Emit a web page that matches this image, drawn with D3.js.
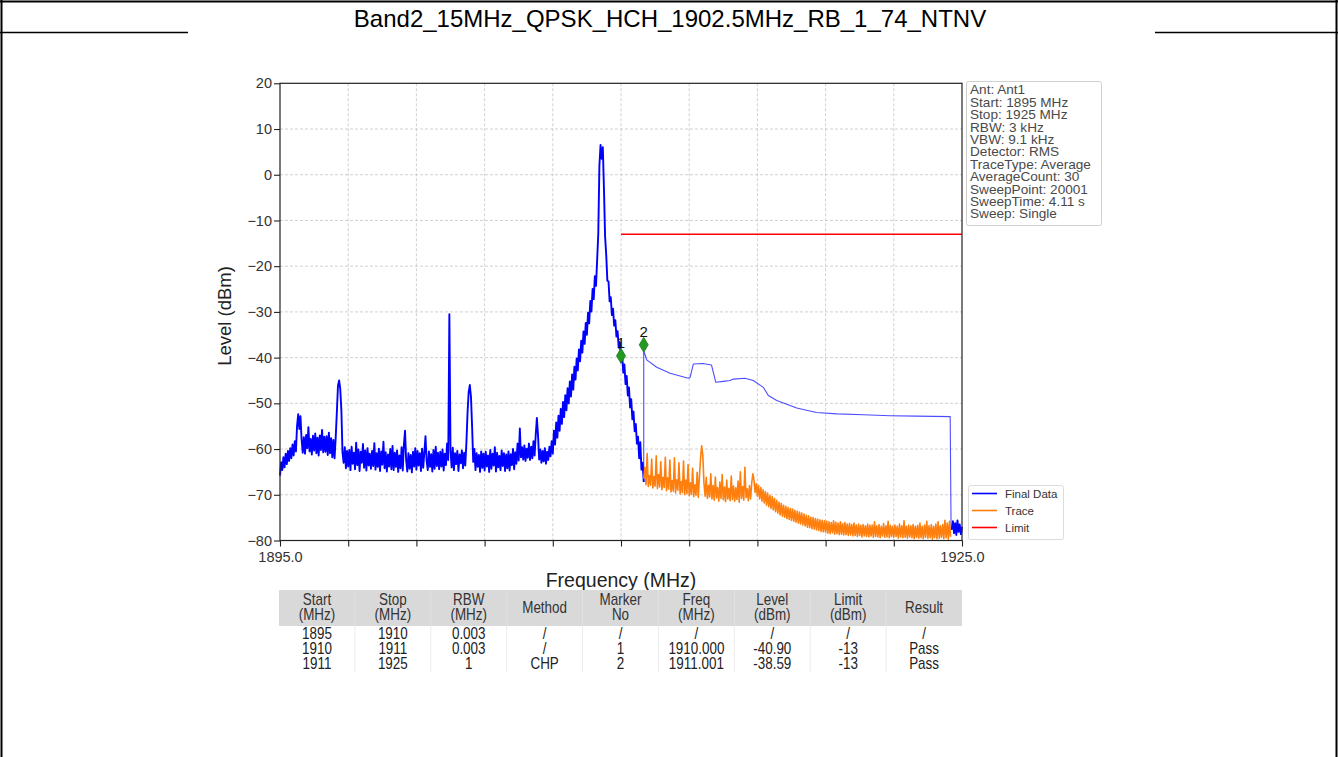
<!DOCTYPE html>
<html><head><meta charset="utf-8">
<script src="https://cdn.jsdelivr.net/npm/d3@7"></script>
<style>
html,body{margin:0;padding:0;background:#fff;}
svg{display:block;font-family:Arial,"Liberation Sans",sans-serif;}
</style></head>
<body>
<svg id="chart" width="1338" height="757"></svg>
<script>
// ---------------- data ----------------
const chartTitle = "Band2_15MHz_QPSK_HCH_1902.5MHz_RB_1_74_NTNV";
const xTicks = [1895,1898,1901,1904,1907,1910,1913,1916,1919,1922,1925];
const xTickLabels = ["1895.0","","","","","","","","","","1925.0"];
const yTicks = [20,10,0,-10,-20,-30,-40,-50,-60,-70,-80];

// Final Data, swept part 1895..1911 MHz, one value every 0.05 MHz
const noiseStart = 1895.0;
const sampleStep = 0.05;
const finalDataNoise = [
-65.8,-62.9,-64.6,-61.8,-64.0,-61.0,-63.3,-60.4,-62.6,-59.8,-62.0,-59.0,-61.4,-58.3,-60.5,-55.0,-52.4,-55.6,-52.8,-57.9,
-60.8,-57.4,-61.0,-56.9,-59.8,-55.2,-60.5,-57.8,-61.2,-57.1,-60.3,-56.6,-60.9,-57.5,-61.4,-57.0,-60.2,-55.8,-60.7,-57.3,
-60.6,-57.2,-61.3,-56.4,-60.9,-57.6,-61.8,-58.0,-62.0,-57.5,-52.0,-46.2,-45.0,-46.8,-51.5,-60.8,-63.0,-59.6,-64.2,-60.4,
-63.8,-60.2,-64.6,-59.5,-63.2,-60.8,-64.4,-58.6,-63.5,-60.1,-64.8,-60.6,-63.0,-58.9,-64.1,-60.3,-64.7,-59.8,-63.6,-61.0,
-64.3,-60.4,-63.7,-58.7,-64.5,-60.9,-63.9,-59.9,-64.8,-60.5,-63.4,-58.4,-64.2,-60.7,-64.9,-61.2,-63.8,-60.0,-64.4,-59.3,
-64.6,-60.8,-63.9,-60.3,-65.0,-61.4,-64.2,-59.6,-64.7,-59.0,-56.0,-62.5,-64.9,-60.9,-64.3,-61.3,-65.1,-60.6,-63.8,-59.8,
-64.5,-60.4,-63.6,-60.9,-64.8,-59.9,-64.1,-60.7,-57.2,-62.6,-64.6,-60.5,-63.9,-61.1,-64.9,-60.2,-64.3,-59.5,-63.7,-60.8,
-64.4,-60.6,-63.8,-60.1,-64.7,-61.0,-63.5,-58.8,-62.4,-30.5,-60.2,-64.0,-59.7,-64.6,-60.9,-63.3,-60.4,-64.8,-61.2,-63.1,
-60.3,-64.2,-60.8,-63.6,-58.6,-52.0,-47.5,-46.0,-48.5,-55.0,-62.8,-60.0,-64.6,-60.9,-63.9,-61.3,-65.0,-60.5,-64.1,-61.0,
-64.7,-60.6,-63.8,-61.4,-65.0,-60.2,-64.3,-61.0,-63.6,-59.6,-64.9,-60.8,-64.0,-61.5,-64.6,-60.3,-63.7,-60.9,-64.8,-61.2,
-64.2,-60.5,-64.7,-61.1,-63.5,-60.0,-64.4,-60.7,-63.2,-58.8,-62.5,-55.5,-61.8,-59.6,-62.3,-59.2,-62.6,-59.9,-61.9,-58.8,
-62.4,-59.5,-62.0,-58.3,-61.4,-56.8,-53.2,-57.0,-62.3,-60.1,-63.0,-60.4,-62.7,-59.8,-63.2,-60.6,-62.4,-59.5,-61.6,-58.3,
-61.0,-56.0,-59.0,-54.2,-57.5,-52.7,-56.0,-51.2,-54.5,-49.7,-53.0,-48.2,-51.5,-46.7,-50.0,-45.2,-48.5,-43.7,-47.0,-42.0,
-44.8,-40.2,-42.8,-38.2,-40.8,-36.3,-38.9,-34.3,-37.0,-32.4,-35.0,-30.2,-32.5,-27.6,-29.9,-25.0,-27.2,-22.2,-24.3,-18.7,
-13.0,2.0,6.5,3.5,6.0,-3.0,-13.5,-17.5,-23.2,-23.3,-27.7,-26.8,-30.7,-29.3,-33.0,-31.8,-35.4,-34.2,-37.8,-36.6,
-41.0,-39.1,-43.3,-41.5,-45.8,-44.0,-48.3,-46.5,-50.9,-49.1,-53.5,-51.8,-56.1,-54.5,-58.8,-57.3,-62.0,-58.5,-64.5,-63.0,
-67.2
];

// Final Data, channel-power part 1911..1924.5 MHz
const chpFreq  = [1911.0,1911.13,1911.57,1912.16,1912.96,1913.04,1913.18,1913.6,1913.98,1914.17,1914.5,1914.8,1914.94,1915.45,1915.82,1916.26,1916.48,1916.85,1917.73,1918.6,1919.5,1920.66,1921.84,1923.0,1924.48,1924.52];
const chpLevel = [-38.5,-40.5,-42.1,-43.4,-44.5,-44.3,-41.4,-41.3,-41.6,-45.4,-45.2,-45.0,-44.7,-44.5,-45.0,-46.5,-48.3,-49.4,-51.0,-52.0,-52.3,-52.5,-52.7,-52.8,-52.9,-77.5];

// Final Data, last segment 1924.55..1925 MHz
const tailStart = 1924.55;
const finalDataTail = [-77.5,-75.8,-78.4,-76.2,-78.8,-75.6,-78.1,-76.5,-78.6,-77.0];

// Trace 1911..1924.5 MHz, one value every 0.05 MHz
const traceStart = 1911.0;
const traceLevel = [
-66.5,-64.0,-67.8,-61.0,-68.2,-65.8,-67.9,-62.2,-68.5,-66.0,-68.1,-61.5,-68.6,-65.6,-68.3,-62.8,-68.9,-66.2,-68.4,-61.8,
-69.1,-66.3,-68.8,-62.4,-69.4,-66.9,-69.2,-61.9,-69.6,-66.7,-69.0,-63.0,-69.8,-67.1,-69.5,-62.6,-70.0,-66.8,-69.7,-63.4,
-70.2,-67.4,-69.9,-64.2,-70.4,-67.8,-70.1,-65.1,-70.6,-66.0,-62.0,-59.3,-61.5,-67.5,-70.3,-66.2,-70.8,-67.9,-70.5,-65.4,
-70.9,-68.0,-71.2,-66.1,-70.7,-68.4,-71.4,-67.2,-70.8,-65.6,-71.1,-68.3,-71.5,-66.8,-70.9,-68.6,-71.3,-65.9,-71.0,-68.1,
-71.4,-68.5,-71.0,-67.0,-71.6,-65.0,-70.8,-68.2,-71.2,-64.0,-70.6,-68.7,-71.3,-68.0,-70.9,-67.4,-65.4,-66.8,-69.5,-67.6,
-70.3,-67.9,-70.9,-68.4,-71.4,-68.9,-71.8,-69.3,-72.3,-69.6,-72.6,-70.1,-73.0,-70.4,-73.3,-70.8,-73.7,-71.2,-74.0,-71.6,
-74.4,-71.9,-74.7,-72.3,-74.9,-72.5,-75.2,-72.8,-75.4,-73.0,-75.6,-73.1,-75.8,-73.4,-76.0,-73.6,-76.2,-73.8,-76.4,-74.0,
-76.6,-74.2,-76.8,-74.5,-77.1,-74.6,-77.2,-74.9,-77.4,-75.0,-77.5,-75.2,-77.7,-75.3,-77.8,-75.5,-78.0,-75.6,-78.1,-75.7,
-78.2,-75.8,-78.4,-75.9,-78.5,-76.1,-78.3,-75.7,-78.6,-76.0,-78.5,-76.2,-78.7,-75.9,-78.6,-76.3,-78.8,-76.1,-78.7,-76.4,
-78.9,-76.3,-78.8,-76.5,-79.0,-76.2,-78.9,-76.6,-79.1,-76.4,-78.9,-76.7,-79.2,-76.5,-79.0,-76.8,-79.1,-76.4,-79.2,-76.7,
-79.0,-76.6,-79.3,-75.9,-79.1,-76.8,-79.2,-76.5,-79.4,-76.9,-79.0,-76.3,-79.3,-76.8,-79.2,-75.8,-79.4,-76.7,-79.1,-76.9,
-79.3,-76.6,-79.1,-76.9,-79.5,-76.4,-79.2,-76.8,-79.4,-75.7,-79.3,-76.9,-79.5,-76.6,-79.2,-76.8,-79.4,-76.5,-79.6,-76.9,
-79.3,-76.7,-79.5,-76.2,-79.4,-76.9,-79.6,-76.6,-79.3,-75.8,-79.5,-76.8,-79.4,-76.5,-79.7,-76.9,-79.4,-76.4,-79.6,-75.9,
-79.5,-76.8,-79.3,-76.5,-79.6,-75.6,-79.4,-76.2,-79.7,-75.8,-79.2
];

const limitFreq = [1910, 1925];
const limitLevel = [-13, -13];

const markerNo = ["1","2"];
const markerFreq = [1910.0, 1911.0];
const markerLevel = [-39.6, -37.2];

const infoLines = ["Ant: Ant1","Start: 1895 MHz","Stop: 1925 MHz","RBW: 3 kHz","VBW: 9.1 kHz","Detector: RMS","TraceType: Average","AverageCount: 30","SweepPoint: 20001","SweepTime: 4.11 s","Sweep: Single"];
const legendLabels = ["Final Data","Trace","Limit"];

const tableHeader = [["Start","(MHz)"],["Stop","(MHz)"],["RBW","(MHz)"],["Method"],["Marker","No"],["Freq","(MHz)"],["Level","(dBm)"],["Limit","(dBm)"],["Result"]];
const tableRows = [
  ["1895","1910","0.003","/","/","/","/","/","/"],
  ["1910","1911","0.003","/","1","1910.000","-40.90","-13","Pass"],
  ["1911","1925","1","CHP","2","1911.001","-38.59","-13","Pass"]
];

// ---------------- drawing ----------------
const svg = d3.select("#chart");
const W = 1338, H = 757;
const colors = {final:"#0000ff", trace:"#ff7f0e", limit:"#ff0000", marker:"#229a22"};

// page frame
svg.append("rect").attr("x",0).attr("y",0).attr("width",W).attr("height",H).attr("fill","#fff");
const frame = svg.append("g").attr("stroke","#000").attr("fill","none");
frame.append("line").attr("x1",0).attr("x2",W).attr("y1",1.5).attr("y2",1.5).attr("stroke-width",2);
frame.append("line").attr("x1",1.5).attr("x2",1.5).attr("y1",0).attr("y2",H).attr("stroke-width",2);
frame.append("line").attr("x1",1336.5).attr("x2",1336.5).attr("y1",0).attr("y2",H).attr("stroke-width",2);
frame.append("line").attr("x1",0).attr("x2",188).attr("y1",32.5).attr("y2",32.5).attr("stroke-width",1.5);
frame.append("line").attr("x1",1155).attr("x2",W).attr("y1",32.5).attr("y2",32.5).attr("stroke-width",1.5);

svg.append("text").attr("x",670).attr("y",26.5).attr("text-anchor","middle")
  .attr("font-size",24).attr("fill","#000").text(chartTitle);

const x = d3.scaleLinear().domain([1895,1925]).range([280,962]);
const y = d3.scaleLinear().domain([-80,20]).range([540.5,83.3]);

// grid
const grid = svg.append("g").attr("stroke","#c4c4c4").attr("stroke-width",0.8).attr("stroke-dasharray","3,2");
xTicks.slice(1,-1).forEach(t => grid.append("line").attr("x1",x(t)).attr("x2",x(t)).attr("y1",y(20)).attr("y2",y(-80)));
yTicks.slice(1,-1).forEach(t => grid.append("line").attr("x1",x(1895)).attr("x2",x(1925)).attr("y1",y(t)).attr("y2",y(t)));

// series
const line = d3.line().x(d => x(d[0])).y(d => y(d[1]));
const noisePts = finalDataNoise.map((v,i) => [noiseStart + i*sampleStep, v]);
const chpPts = chpFreq.map((f,i) => [f, chpLevel[i]]);
const tailPts = finalDataTail.map((v,i) => [tailStart + i*sampleStep, v]);
const tracePts = traceLevel.map((v,i) => [traceStart + i*sampleStep, v]);
const limitPts = limitFreq.map((f,i) => [f, limitLevel[i]]);

const plot = svg.append("g").attr("fill","none").attr("stroke-linejoin","round");
plot.append("path").attr("d", line(noisePts)).attr("stroke",colors.final).attr("stroke-width",1.9);
plot.append("path").attr("d", line([noisePts[noisePts.length-1]].concat(chpPts))).attr("stroke",colors.final).attr("stroke-width",1.1).attr("stroke-opacity",0.7);
plot.append("path").attr("d", line([chpPts[chpPts.length-1]].concat(tailPts))).attr("stroke",colors.final).attr("stroke-width",1.9);
plot.append("path").attr("d", line(tracePts)).attr("stroke",colors.trace).attr("stroke-width",1.6);
plot.append("path").attr("d", line(limitPts)).attr("stroke",colors.limit).attr("stroke-width",1.6);

// markers
const mk = svg.append("g");
markerNo.forEach((m,i) => {
  const cx = x(markerFreq[i]), cy = y(markerLevel[i]);
  mk.append("path").attr("d",`M${cx},${cy-7.5}L${cx+4.5},${cy}L${cx},${cy+7.5}L${cx-4.5},${cy}Z`)
    .attr("fill",colors.marker).attr("stroke","#1a7a1a").attr("stroke-width",0.8);
  mk.append("text").attr("x",cx).attr("y",cy-8).attr("text-anchor","middle")
    .attr("font-size",15).attr("fill","#111").text(m);
});

// axes
const yAxis = svg.append("g").attr("transform","translate(280,0)")
  .call(d3.axisLeft(y).tickValues(yTicks).tickSize(6).tickPadding(2)
    .tickFormat(d => d < 0 ? "\u2212" + Math.abs(d) : String(d)));
const xAxis = svg.append("g").attr("transform",`translate(0,${y(-80)})`)
  .call(d3.axisBottom(x).tickValues(xTicks).tickSize(6).tickPadding(5.5)
    .tickFormat((d,i) => xTickLabels[i]));
[yAxis, xAxis].forEach(a => {
  a.select(".domain").remove();
  a.selectAll(".tick line").attr("stroke","#222").attr("stroke-width",1.1);
  a.selectAll(".tick text").attr("font-size",14.5).attr("fill","#333").attr("font-family",'Arial,"Liberation Sans",sans-serif');
});
svg.append("rect").attr("x",x(1895)).attr("y",y(20)).attr("width",x(1925)-x(1895)).attr("height",y(-80)-y(20))
  .attr("fill","none").attr("stroke","#222").attr("stroke-width",1.2);

svg.append("text").attr("transform","translate(231,316) rotate(-90)").attr("text-anchor","middle")
  .attr("font-size",18.5).attr("fill","#222").text("Level (dBm)");
svg.append("text").attr("x",621).attr("y",586.5).attr("text-anchor","middle")
  .attr("font-size",19.5).attr("fill","#222").text("Frequency (MHz)");

// info box
const info = svg.append("g");
info.append("rect").attr("x",966.5).attr("y",81.5).attr("width",135).attr("height",144).attr("rx",2)
  .attr("fill","#fff").attr("stroke","#d0d0d0");
infoLines.forEach((t,i) => info.append("text").attr("x",970).attr("y",94.3 + i*12.4)
  .attr("font-size",13.6).attr("fill","#4a4a4a").text(t));

// legend
const lg = svg.append("g");
lg.append("rect").attr("x",968.5).attr("y",485.5).attr("width",95).attr("height",54).attr("rx",2)
  .attr("fill","#fff").attr("stroke","#dcdcdc");
[colors.final, colors.trace, colors.limit].forEach((c,i) => {
  const ly = 493.5 + i*17;
  lg.append("line").attr("x1",972).attr("x2",997).attr("y1",ly).attr("y2",ly).attr("stroke",c).attr("stroke-width",1.6);
  lg.append("text").attr("x",1005).attr("y",ly+4).attr("font-size",11.5).attr("fill","#333").text(legendLabels[i]);
});

// table
const col = d3.scaleBand().domain(d3.range(tableHeader.length)).range([279,962]);
const tb = svg.append("g");
tb.append("rect").attr("x",279).attr("y",590).attr("width",683).attr("height",36).attr("fill","#d9d9d9");
d3.range(1,tableHeader.length).forEach(i => {
  tb.append("line").attr("x1",col(i)).attr("x2",col(i)).attr("y1",590).attr("y2",626).attr("stroke","#e2e2e2").attr("stroke-width",1);
  tb.append("line").attr("x1",col(i)).attr("x2",col(i)).attr("y1",626).attr("y2",672).attr("stroke","#ececec").attr("stroke-width",1);
});
const tText = (cx, yy, s, fill) => tb.append("text")
  .attr("transform",`translate(${cx},${yy}) scale(0.84,1)`).attr("text-anchor","middle")
  .attr("font-size",16).attr("fill",fill).text(s);
tableHeader.forEach((h,i) => {
  const cx = col(i) + col.bandwidth()/2;
  if (h.length === 2) { tText(cx, 604.5, h[0], "#333"); tText(cx, 620, h[1], "#333"); }
  else tText(cx, 613, h[0], "#333");
});
tableRows.forEach((r,j) => r.forEach((s,i) => tText(col(i) + col.bandwidth()/2, 638.5 + j*15, s, "#222")));
</script>
</body></html>
